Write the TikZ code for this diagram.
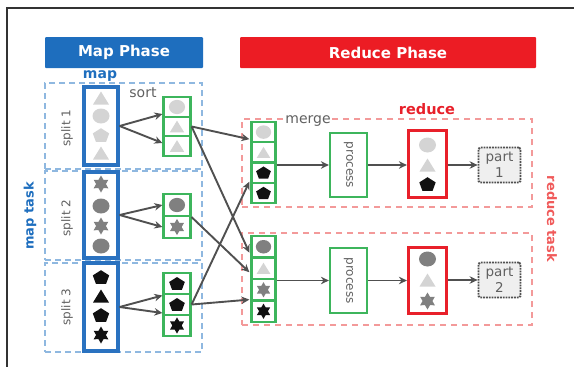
\documentclass[tikz,border=0pt]{standalone}
\usepackage{fontspec}
\setmainfont{DejaVu Sans}
\usetikzlibrary{arrows.meta,calc}

\definecolor{mapblue}{HTML}{1E6EBE}
\definecolor{boxblue}{HTML}{2A72C0}
\definecolor{dashblue}{HTML}{8FB8E0}
\definecolor{redhdr}{HTML}{EC1C24}
\definecolor{boxred}{HTML}{E8202A}
\definecolor{dashred}{HTML}{F39A9A}
\definecolor{taskred}{HTML}{F05A5A}
\definecolor{cellgreen}{HTML}{3DB55C}
\definecolor{arrowgray}{HTML}{505050}
\definecolor{labelgray}{HTML}{606060}
\definecolor{lg}{HTML}{D4D4D4}
\definecolor{mg}{HTML}{808080}
\definecolor{bk}{HTML}{111111}
\definecolor{partfill}{HTML}{EFEFEF}

\tikzset{
  % glyphs used as records
  circ/.pic={\fill[#1] (0,0) ellipse [x radius=8.5, y radius=7.5];},
  tri/.pic={\fill[#1] (0,-6.5) -- (8,6.5) -- (-8,6.5) -- cycle;},
  pent/.pic={\fill[#1] (0,-6.8) -- (8.2,-1.6) -- (5.1,6.8) -- (-5.1,6.8) -- (-8.2,-1.6) -- cycle;},
  hexstar/.pic={\fill[#1] (90:8.5) \foreach \k in {1,...,11}{ -- ({90+30*\k}:{mod(\k,2)==1 ? 4.9 : 8.5})} -- cycle;},
  header/.style={rounded corners=1pt, inner sep=0pt, text=white,
    font=\fontsize{15}{17}\selectfont\bfseries, minimum height=31pt},
  mapbox/.style={draw=boxblue, line width=3.2pt, minimum width=34pt, inner sep=0pt},
  splitbox/.style={draw=dashblue, line width=1.5pt, dash pattern=on 6pt off 4pt, inner sep=0pt},
  taskbox/.style={draw=dashred, line width=1.5pt, dash pattern=on 6pt off 5pt, inner sep=0pt},
  cell/.style={draw=cellgreen, line width=2.2pt, minimum width=27pt, inner sep=0pt},
  mcell/.style={draw=cellgreen, line width=2.2pt, minimum width=24pt, inner sep=0pt},
  procbox/.style={draw=cellgreen, line width=2.2pt, minimum width=37pt, inner sep=0pt},
  redbox/.style={draw=boxred, line width=3.2pt, minimum width=38pt, inner sep=0pt},
  partbox/.style={draw=arrowgray, line width=1.8pt, densely dotted, fill=partfill,
    rounded corners=1.5pt, minimum width=42pt, minimum height=35pt, inner sep=0pt,
    align=center, font=\fontsize{13.5}{16}\selectfont, text=labelgray},
  graylabel/.style={text=labelgray, inner sep=1pt},
  conn/.style={draw=arrowgray, line width=1.9pt, -{Stealth[length=8pt,width=7.5pt]}},
}

\begin{document}
\begin{tikzpicture}[x=1pt, y=-1pt]
\useasboundingbox (0,0) rectangle (574,367);

% outer frame
\draw[line width=2.2pt, draw=black!80] (7,367) -- (7,8) -- (574,8);

% phase headers
\node[header, fill=mapblue, minimum width=158pt] (hmap) at (124,52.5) {Map Phase};
\node[header, fill=redhdr, minimum width=296pt] (hred) at (388,52.5) {Reduce Phase};

% map task splits
\node[splitbox, minimum width=157pt, minimum height=86pt] (sp1) at (123.5,126) {};
\node[splitbox, minimum width=157pt, minimum height=89pt] (sp2) at (123.5,215.5) {};
\node[splitbox, minimum width=157pt, minimum height=89pt] (sp3) at (123.5,307.5) {};

\node[mapbox, minimum height=78pt] (m1) at (101,126) {};
\node[mapbox, minimum height=86pt] (m2) at (101,215) {};
\node[mapbox, minimum height=88pt] (m3) at (101,307) {};

\node[text=mapblue, font=\fontsize{14}{16}\selectfont\bfseries, inner sep=0pt] (lmap) at (100,76) {map};
\node[text=mapblue, font=\fontsize{13}{15}\selectfont\bfseries, rotate=90, inner sep=0pt] (lmaptask) at (30,216) {map task};
\node[graylabel, font=\fontsize{12}{14}\selectfont, rotate=90] (ls1) at (67,128) {split 1};
\node[graylabel, font=\fontsize{12}{14}\selectfont, rotate=90] (ls2) at (67,218) {split 2};
\node[graylabel, font=\fontsize{12}{14}\selectfont, rotate=90] (ls3) at (67,307) {split 3};

% split contents
\pic at (101,98) {tri=lg};
\pic at (101,116) {circ=lg};
\pic at (101,135) {pent=lg};
\pic at (101,153) {tri=lg};
\pic at (101,184) {hexstar=mg};
\pic at (101,206) {circ=mg};
\pic at (101,226) {hexstar=mg};
\pic at (101,246) {circ=mg};
\pic at (101,277) {pent=bk};
\pic at (101,296) {tri=bk};
\pic at (101,315) {pent=bk};
\pic at (101,335) {hexstar=bk};

% sort buffers
\node[graylabel, font=\fontsize{14}{16}\selectfont] (lsort) at (143,93) {sort};
\node[cell, minimum height=19.5pt] (s1a) at (177,107) {};
\node[cell, minimum height=19.5pt] (s1b) at (177,126.5) {};
\node[cell, minimum height=19.5pt] (s1c) at (177,146) {};
\node[cell, minimum height=22pt] (s2a) at (177,205) {};
\node[cell, minimum height=22pt] (s2b) at (177,227) {};
\node[cell, minimum height=21pt] (s3a) at (177,283.5) {};
\node[cell, minimum height=21pt] (s3b) at (177,304.5) {};
\node[cell, minimum height=21pt] (s3c) at (177,325.5) {};
\pic[scale=0.95] at (s1a) {circ=lg};
\pic[scale=0.9] at (s1b) {tri=lg};
\pic[scale=0.9] at (s1c) {tri=lg};
\pic[scale=0.95] at (s2a) {circ=mg};
\pic[scale=0.95] at (s2b) {hexstar=mg};
\pic[scale=0.95] at (s3a) {pent=bk};
\pic[scale=0.95] at (s3b) {pent=bk};
\pic[scale=0.95] at (s3c) {hexstar=bk};

% map -> sort
\draw[conn] (m1.east) -- ($(s1a.west)+(0,7)$);
\draw[conn] (m1.east) -- ($(s1c.west)+(0,-3)$);
\draw[conn] (m2.east) -- (s2a.west);
\draw[conn] (m2.east) -- (s2b.west);
\draw[conn] (m3.east) -- ($(s3b.west)+(0,-9)$);
\draw[conn] (m3.east) -- ($(s3b.west)+(0,8.5)$);

% reduce tasks
\node[taskbox, minimum width=290pt, minimum height=88pt] (rt1) at (387,163) {};
\node[taskbox, minimum width=290pt, minimum height=92pt] (rt2) at (387,279) {};
\node[graylabel, fill=white, font=\fontsize{14}{16}\selectfont, inner sep=1.5pt] (lmerge) at (308,121) {merge};
\node[text=boxred, font=\fontsize{14.5}{16}\selectfont\bfseries, inner sep=0pt] (lreduce) at (427,109) {reduce};
\node[text=taskred, font=\fontsize{13}{15}\selectfont\bfseries, rotate=-90, inner sep=0pt] (lredtask) at (552,219) {reduce task};

% merge buffers
\node[mcell, minimum height=20.25pt] (g1a) at (263.5,132.1) {};
\node[mcell, minimum height=20.25pt] (g1b) at (263.5,152.4) {};
\node[mcell, minimum height=20.25pt] (g1c) at (263.5,172.6) {};
\node[mcell, minimum height=20.25pt] (g1d) at (263.5,192.9) {};
\node[mcell, minimum height=21.5pt] (g2a) at (263.5,246.75) {};
\node[mcell, minimum height=21.5pt] (g2b) at (263.5,268.25) {};
\node[mcell, minimum height=21.5pt] (g2c) at (263.5,289.75) {};
\node[mcell, minimum height=21.5pt] (g2d) at (263.5,311.25) {};
\pic[scale=0.9] at (g1a) {circ=lg};
\pic[scale=0.85] at (g1b) {tri=lg};
\pic[scale=0.9] at (g1c) {pent=bk};
\pic[scale=0.9] at (g1d) {pent=bk};
\pic[scale=0.9] at (g2a) {circ=mg};
\pic[scale=0.85] at (g2b) {tri=lg};
\pic[scale=0.9] at (g2c) {hexstar=mg};
\pic[scale=0.9] at (g2d) {hexstar=bk};

% shuffle
\draw[conn] (s1b.east) -- ($(g1b.north west)+(-1,-2)$);
\draw[conn] (s1b.east) -- ($(g2a.west)+(-1,6)$);
\draw[conn] (s2a.south east) -- ($(g2b.west)+(-1,4)$);
\draw[conn] (s3b.east) -- ($(g1d.north west)+(-1,0)$);
\draw[conn] (s3b.east) -- ($(g2c.south west)+(-1,-2)$);

% process, reduce output, partitions
\node[procbox, minimum height=64pt] (p1) at (348.5,165) {};
\node[procbox, minimum height=65pt] (p2) at (348.5,280.5) {};
\node[graylabel, font=\fontsize{12}{14}\selectfont, rotate=-90] (lp1) at (p1) {process};
\node[graylabel, font=\fontsize{12}{14}\selectfont, rotate=-90] (lp2) at (p2) {process};

\node[redbox, minimum height=67pt] (r1) at (427.5,164) {};
\node[redbox, minimum height=66pt] (r2) at (427.5,280.5) {};
\pic at (427.5,145) {circ=lg};
\pic at (427.5,165) {tri=lg};
\pic at (427.5,184) {pent=bk};
\pic at (427.5,259) {circ=mg};
\pic at (427.5,280) {tri=lg};
\pic at (427.5,301) {hexstar=mg};

\node[partbox] (pt1) at (499.5,165) {part\\1};
\node[partbox] (pt2) at (499.5,280) {part\\2};

\draw[conn] (p1.west -| g1c.east) -- (p1.west);
\draw[conn] (p1.east) -- (p1.east -| r1.west);
\draw[conn] (r1.east |- pt1.west) -- (pt1.west);
\draw[conn] (p2.west -| g2c.east) -- (p2.west);
\draw[conn] (p2.east) -- (p2.east -| r2.west);
\draw[conn] (r2.east |- pt2.west) -- (pt2.west);
\end{tikzpicture}
\end{document}
